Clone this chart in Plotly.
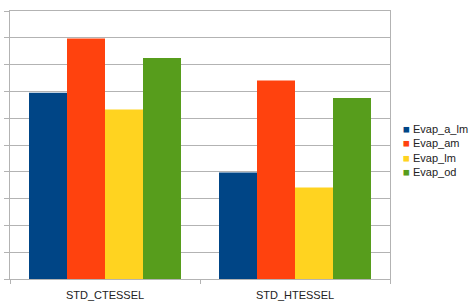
import plotly.graph_objects as go

categories = ["STD_CTESSEL", "STD_HTESSEL"]
series_names = ["Evap_a_lm", "Evap_am", "Evap_lm", "Evap_od"]
evap_a_lm = [6.95, 3.97]
evap_am = [8.97, 7.41]
evap_lm = [6.32, 3.41]
evap_od = [8.25, 6.75]
colors = ["#004586", "#ff420e", "#ffd320", "#579d1c"]
y_ticks = list(range(0, 11))

fig = go.Figure()
for name, vals, col in zip(series_names, [evap_a_lm, evap_am, evap_lm, evap_od], colors):
    fig.add_trace(go.Bar(x=categories, y=vals, name=name, showlegend=False,
                         marker=dict(color=col, line=dict(width=0))))

# compact legend (LibreOffice style) built from the series names and colours
legend_text = "<br>".join(
    f"<span style='color:{c};font-size:11.5px'>■</span> {n}" for n, c in zip(series_names, colors)
)
fig.add_annotation(xref="paper", yref="paper", x=1.028, y=0.478,
                   xanchor="left", yanchor="middle", align="left",
                   text=legend_text, showarrow=False,
                   font=dict(family="Liberation Sans, Arial, sans-serif", size=11, color="#222"))

fig.update_layout(
    width=474, height=306,
    margin=dict(l=10, r=84, t=11, b=27, autoexpand=False),
    barmode="group", bargap=0.2, bargroupgap=0,
    plot_bgcolor="white", paper_bgcolor="white",
    font=dict(family="Liberation Sans, Arial, sans-serif", size=11, color="#222"),
)
fig.update_xaxes(showline=True, linecolor="#b3b3b3", linewidth=1, mirror=True,
                 ticks="outside", ticklen=4, tickcolor="#b3b3b3", tickson="boundaries",
                 ticklabelstandoff=6, showgrid=False)
fig.update_yaxes(range=[0, 10], tickvals=y_ticks, showticklabels=False,
                 showgrid=True, gridcolor="#b3b3b3", gridwidth=1,
                 showline=True, linecolor="#b3b3b3", linewidth=1, mirror=True,
                 ticks="outside", ticklen=5, tickcolor="#b3b3b3", zeroline=False)

fig.write_html("out.html")
